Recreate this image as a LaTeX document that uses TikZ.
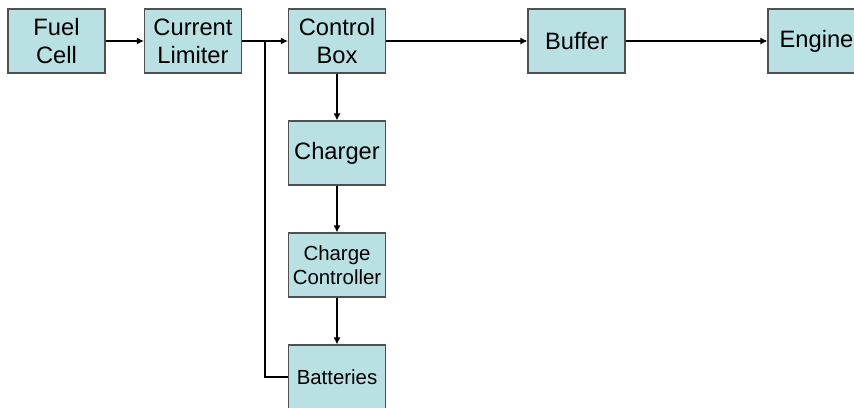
\documentclass[tikz,border=0pt]{standalone}
\usepackage{fontspec}
\setmainfont{Liberation Sans}
\usepackage{xcolor}
\usetikzlibrary{arrows.meta}
\definecolor{boxfill}{RGB}{185,224,227}
\definecolor{boxline}{RGB}{80,80,80}

\begin{document}
\begin{tikzpicture}[x=0.5pt,y=-0.5pt,
    bloc/.style={draw=boxline, fill=boxfill, line width=0.6pt, minimum width=48.5pt, minimum height=32pt,
                 inner sep=0pt, align=center, font=\fontsize{11.85}{14}\selectfont},
    petit/.style={font=\fontsize{10.2}{12}\selectfont},
    fleche/.style={-{Latex[length=3.5pt,width=3.5pt]}, line width=0.6pt}]
    % cadre
    \useasboundingbox (0,0) rectangle (854,407);
    % ligne du haut
    \node[bloc] (fuel) at (56.5,41) {Fuel\\Cell};
    \node[bloc] (lim) at (193,41) {Current\\Limiter};
    \node[bloc] (ctrl) at (337,41) {Control\\Box};
    \node[bloc] (buf) at (576.5,41) {Buffer};
    \node[bloc] (eng) at (816.5,41) {Engine};
    % colonne de charge
    \node[bloc] (chg) at (337,153) {Charger};
    \node[bloc, petit] (cc) at (337,265) {Charge\\Controller};
    \node[bloc, petit] (bat) at (337,377) {Batteries};
    \coordinate (j) at (265,41);
    % connexions
    \draw[fleche] (fuel) -- (lim);
    \draw[fleche] (lim) -- (ctrl);
    \draw[fleche] (ctrl) -- (buf);
    \draw[fleche] (buf) -- (eng);
    \draw[fleche] (ctrl) -- (chg);
    \draw[fleche] (chg) -- (cc);
    \draw[fleche] (cc) -- (bat);
    \draw[line width=0.6pt] (j) |- (bat.west);
\end{tikzpicture}
\end{document}
